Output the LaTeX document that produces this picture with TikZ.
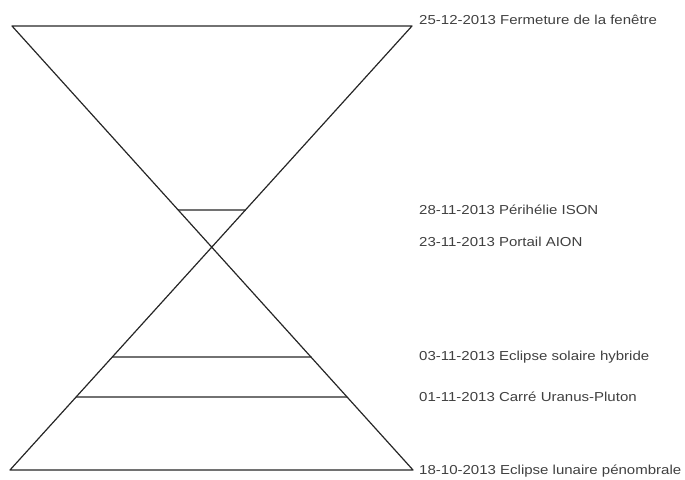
\documentclass[tikz,border=0pt]{standalone}
\usepackage{fontspec}
\setmainfont{Liberation Sans}
\newcommand{\etirer}[1]{\scalebox{1.155}[1]{#1}}
\begin{document}
\begin{tikzpicture}[x=1pt,y=-1pt,line join=round,line cap=round,
	ligne/.style={draw=black!85,line width=1.2pt},
	etiquette/.style={anchor=west,inner sep=0pt,text=black!75,font=\fontsize{13}{15}\selectfont}]
	\useasboundingbox (0,0) rectangle (685,479);
	\path (12,26) coordinate (A)
	++(400,0) coordinate (B)
	++(1,444) coordinate (D)
	++(-403,0) coordinate (C);
	\coordinate (O) at (intersection of A--D and B--C);
	\foreach \n/\y in {1/210,2/357,3/397}{\path (0,\y) coordinate (h\n) (1,\y) coordinate (k\n);}
	\draw[ligne] (A)--(B)--(C)--(D)--cycle;
	\foreach \n in {1,2,3}{\draw[ligne] (intersection of A--D and h\n--k\n)--(intersection of B--C and h\n--k\n);}
	\foreach \nom/\y/\texte in {e1/20/{25-12-2013 Fermeture de la fenêtre},
		e2/210/{28-11-2013 Périhélie ISON},
		e3/242/{23-11-2013 Portail AION},
		e4/357/{03-11-2013 Eclipse solaire hybride},
		e5/397/{01-11-2013 Carré Uranus-Pluton},
		e6/471/{18-10-2013 Eclipse lunaire pénombrale}
	}{\node[etiquette] (\nom) at (419,\y) {\etirer{\texte}};}
\end{tikzpicture}
\end{document}
